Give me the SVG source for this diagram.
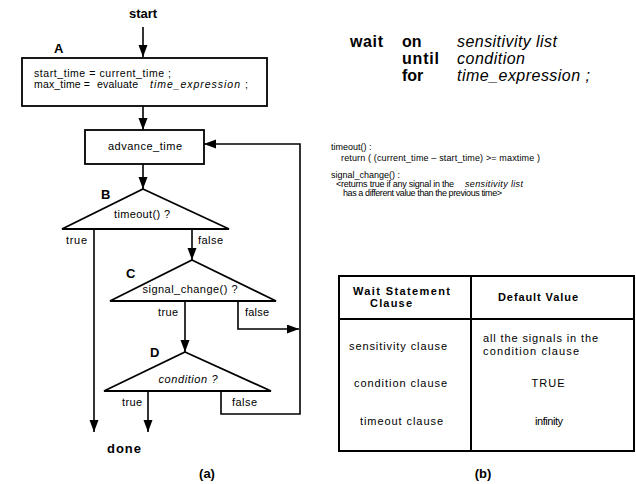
<svg xmlns="http://www.w3.org/2000/svg" width="636" height="484" viewBox="0 0 636 484">
<style>
text{font-family:"Liberation Sans",Arial,sans-serif;fill:#000}
.b{font-weight:bold}
.i{font-style:italic}
.s{font-size:11px}
.a{font-size:10.5px}
.r{font-size:9px}
.t{font-size:11px}
.lbl{font-size:13px;font-weight:bold}
.big{font-size:16px}
.shape{fill:#fff;stroke:#000;stroke-width:1.8}
.con{fill:none;stroke:#000;stroke-width:1.6}
</style>
<defs>
<marker id="ah" markerUnits="userSpaceOnUse" markerWidth="12" markerHeight="10" refX="12" refY="4.5" orient="auto">
<path d="M0,0 L12,4.5 L0,9 z" fill="#000"/>
</marker>
</defs>
<rect width="636" height="484" fill="#fff"/>

<g id="connectors">
<path class="con" d="M143,27 V57" marker-end="url(#ah)"/>
<path class="con" d="M143,106 V130" marker-end="url(#ah)"/>
<path class="con" d="M143,164 V189" marker-end="url(#ah)"/>
<path class="con" d="M192,229 V260" marker-end="url(#ah)"/>
<path class="con" d="M185,301 V352" marker-end="url(#ah)"/>
<path class="con" d="M238,301 V329 H299" marker-end="url(#ah)"/>
<path class="con" d="M221,391 V414 H300 V144 H204" marker-end="url(#ah)"/>
<path class="con" d="M94,229 V432" marker-end="url(#ah)"/>
<path class="con" d="M148,391 V432" marker-end="url(#ah)"/>
<text class="s" x="66" y="244" textLength="21">true</text>
<text class="s" x="198" y="244" textLength="25">false</text>
<text class="s" x="158" y="316" textLength="20">true</text>
<text class="s" x="245" y="316" textLength="24">false</text>
<text class="s" x="122" y="406" textLength="20">true</text>
<text class="s" x="232" y="406" textLength="25">false</text>
</g>

<g id="start"><text class="lbl" x="143" y="18" text-anchor="middle">start</text></g>

<g id="nodeA">
<text class="lbl" x="54" y="53">A</text>
<rect class="shape" x="22" y="58" width="245" height="48"/>
<text class="a" x="34" y="77" textLength="137">start_time = current_time ;</text>
<text class="a" x="34" y="88" textLength="56">max_time =</text>
<text class="a" x="97" y="88" textLength="41">evaluate</text>
<text class="a i" x="150" y="88" textLength="90">time_expression</text>
<text class="a" x="245" y="88">;</text>
</g>

<g id="advance">
<rect class="shape" x="85" y="130" width="119" height="34"/>
<text class="s" x="145" y="150" text-anchor="middle" textLength="74">advance_time</text>
</g>

<g id="nodeB">
<text class="lbl" x="101" y="199">B</text>
<path class="shape" d="M143,189 L229,229 H62 Z"/>
<text class="s" x="142" y="218" text-anchor="middle" textLength="56">timeout() ?</text>
</g>

<g id="nodeC">
<text class="lbl" x="126" y="278">C</text>
<path class="shape" d="M192,260 L276,301 H110 Z"/>
<text class="s" x="190" y="293" text-anchor="middle" textLength="95">signal_change() ?</text>
</g>

<g id="nodeD">
<text class="lbl" x="150" y="357">D</text>
<path class="shape" d="M185,352 L271,391 H104 Z"/>
<text class="s i" x="188" y="383" text-anchor="middle" textLength="59">condition ?</text>
</g>

<g id="done"><text class="lbl" x="124" y="453" text-anchor="middle" textLength="34">done</text></g>
<g id="caption-a"><text class="lbl" x="207" y="478" text-anchor="middle">(a)</text></g>

<g id="wait-syntax">
<text class="big b" x="350" y="47" textLength="33">wait</text>
<text class="big b" x="402" y="47">on</text>
<text class="big b" x="402" y="64" textLength="37">until</text>
<text class="big b" x="402" y="81">for</text>
<text class="big i" x="457" y="47" textLength="100">sensitivity list</text>
<text class="big i" x="457" y="64" textLength="68">condition</text>
<text class="big i" x="457" y="81" textLength="133">time_expression ;</text>
</g>

<g id="definitions">
<text class="r" x="331" y="150">timeout() :</text>
<text class="r" x="341" y="161" textLength="199">return (  (current_time – start_time) &gt;= maxtime  )</text>
<text class="r" x="331" y="178">signal_change() :</text>
<text class="r" x="336" y="187" textLength="118">&lt;returns true if any signal in the</text>
<text class="r i" x="465" y="187" textLength="58">sensitivity list</text>
<text class="r" x="343" y="196" textLength="159">has a different value than the previous time&gt;</text>
</g>

<g id="table">
<rect x="339" y="276" width="295" height="175" fill="#fff" stroke="#000" stroke-width="2"/>
<line x1="471" y1="276" x2="471" y2="451" stroke="#000" stroke-width="2"/>
<line x1="339" y1="319" x2="634" y2="319" stroke="#000" stroke-width="2"/>
<text class="t b" x="353" y="295" textLength="97">Wait Statement</text>
<text class="t b" x="370" y="307" textLength="42">Clause</text>
<text class="t b" x="498" y="301" textLength="80">Default Value</text>
<text class="t" x="349" y="350" textLength="98">sensitivity clause</text>
<text class="t" x="483" y="342" textLength="115">all the signals in the</text>
<text class="t" x="483" y="355" textLength="96">condition clause</text>
<text class="t" x="354" y="387" textLength="93">condition clause</text>
<text class="t" x="548" y="387" text-anchor="middle" textLength="33">TRUE</text>
<text class="t" x="360" y="425" textLength="83">timeout clause</text>
<text class="t" x="549" y="425" text-anchor="middle" textLength="28">infinity</text>
</g>
<g id="caption-b"><text class="lbl" x="483" y="478" text-anchor="middle">(b)</text></g>
</svg>
